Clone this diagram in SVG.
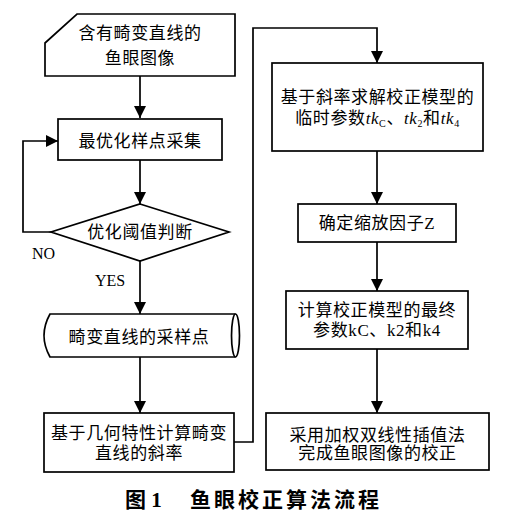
<svg xmlns="http://www.w3.org/2000/svg" width="510" height="512" viewBox="0 0 510 512">
<style>
.n{fill:#fff;stroke:#000;stroke-width:1.7}
.t{font-family:"Liberation Serif","Noto Sans CJK SC",serif;font-size:17px;fill:#000;text-anchor:middle;letter-spacing:0.6px}
.l{font-family:"Liberation Serif",serif;font-size:16px;fill:#000}
.c{fill:none;stroke:#000;stroke-width:1.7}
.cap{font-family:"Liberation Serif","Noto Sans CJK SC",serif;font-size:21px;font-weight:bold;fill:#000}
</style>
<defs>
<marker id="a" markerUnits="userSpaceOnUse" markerWidth="12" markerHeight="12" viewBox="0 0 12 12" refX="12" refY="6" orient="auto">
<path d="M0,0 L12,6 L0,12 z" fill="#000"/>
</marker>
</defs>
<rect width="510" height="512" fill="#fff"/>
<g id="connectors">
<path class="c" d="M140,76 V118" marker-end="url(#a)"/>
<path class="c" d="M140,160 V204" marker-end="url(#a)"/>
<path class="c" d="M51,232 H23 V141 H58" marker-end="url(#a)"/>
<path class="c" d="M140,261 V314" marker-end="url(#a)"/>
<path class="c" d="M140,357 V413" marker-end="url(#a)"/>
<path class="c" d="M234,442 H253 V28 H377 V63" marker-end="url(#a)"/>
<path class="c" d="M377,151 V204" marker-end="url(#a)"/>
<path class="c" d="M377,242 V291" marker-end="url(#a)"/>
<path class="c" d="M377,349 V413" marker-end="url(#a)"/>
</g>
<g id="start">
<path class="n" d="M77,14 H235 V76 H45 V43 Z"/>
<text class="t" x="140" y="39">含有畸变直线的</text>
<text class="t" x="140" y="64">鱼眼图像</text>
</g>
<g id="sample">
<rect class="n" x="58" y="119" width="164" height="41"/>
<text class="t" x="140" y="147">最优化样点采集</text>
</g>
<g id="decision">
<path class="n" d="M140,204 L229,232 L140,261 L51,232 Z"/>
<text class="t" x="140" y="238">优化阈值判断</text>
</g>
<text class="l" x="32" y="259">NO</text>
<text class="l" x="95" y="286">YES</text>
<g id="points">
<path class="n" d="M50,314 H235.5 A4,21.5 0 0 1 235.5,357 H50 Q38,335.5 50,314 Z"/>
<path class="c" d="M235.5,314 A4,21.5 0 0 0 235.5,357"/>
<text class="t" x="139" y="343">畸变直线的采样点</text>
</g>
<g id="slope">
<rect class="n" x="44" y="413" width="190" height="59"/>
<text class="t" x="139" y="439">基于几何特性计算畸变</text>
<text class="t" x="139" y="459">直线的斜率</text>
</g>
<g id="temp">
<rect class="n" x="272" y="63" width="211" height="88"/>
<text class="t" x="377.5" y="103">基于斜率求解校正模型的</text>
<text class="t" x="377.5" y="124">临时参数<tspan font-style="italic">tk</tspan><tspan font-size="10" dy="3">C</tspan><tspan dy="-3">、</tspan><tspan font-style="italic">tk</tspan><tspan font-size="10" dy="3">2</tspan><tspan dy="-3">和</tspan><tspan font-style="italic">tk</tspan><tspan font-size="10" dy="3">4</tspan></text>
</g>
<g id="zoom">
<rect class="n" x="298" y="204" width="158" height="38"/>
<text class="t" x="377" y="229">确定缩放因子Z</text>
</g>
<g id="final">
<rect class="n" x="286" y="291" width="182" height="58"/>
<text class="t" x="377" y="316">计算校正模型的最终</text>
<text class="t" x="377" y="336">参数kC、k2和k4</text>
</g>
<g id="correct">
<rect class="n" x="266" y="413" width="223" height="57"/>
<text class="t" x="377.5" y="441">采用加权双线性插值法</text>
<text class="t" x="377.5" y="459">完成鱼眼图像的校正</text>
</g>
<text class="cap" x="125" y="507">图 1</text>
<text class="cap" x="190" y="507" letter-spacing="3">鱼眼校正算法流程</text>
</svg>
